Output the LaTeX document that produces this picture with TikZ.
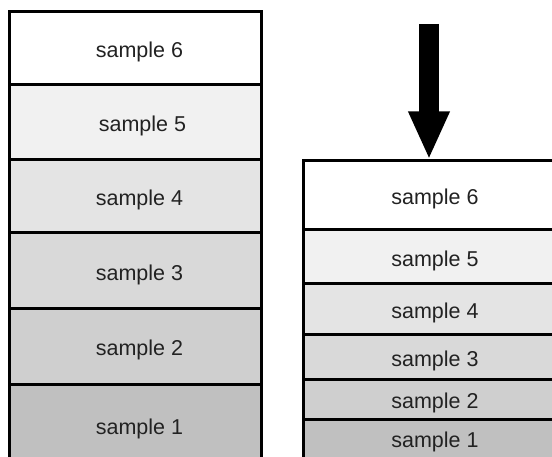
\documentclass[tikz,border=0pt]{standalone}
\usepackage{fontspec}
\setmainfont{Liberation Sans}
\usetikzlibrary{arrows.meta}
\definecolor{cs6}{HTML}{FFFFFF}
\definecolor{cs5}{HTML}{F1F1F1}
\definecolor{cs4}{HTML}{E4E4E4}
\definecolor{cs3}{HTML}{D9D9D9}
\definecolor{cs2}{HTML}{CFCFCF}
\definecolor{cs1}{HTML}{C0C0C0}
\definecolor{txt}{HTML}{222222}
\tikzset{
  layer/.style={draw=black, line width=3pt, rectangle, inner sep=0pt,
    text height=18.5pt, text depth=0pt,
    text=txt, font=\fontsize{21.5}{25}\selectfont},
  bigarrow/.style={line width=20pt, -{Triangle[width=38pt,length=48pt]}}
}
\begin{document}
\begin{tikzpicture}[x=1pt,y=-1pt]
\useasboundingbox (0,0) rectangle (552,457);
\clip (0,0) rectangle (552,457);
% left stack
\node[layer, fill=cs6, minimum width=252pt, minimum height=73pt] (l6) at (135,48.5) {\hspace{9pt}sample 6};
\node[layer, fill=cs5, minimum width=252pt, minimum height=75pt] (l5) at (135,122.5) {\hspace{15pt}sample 5};
\node[layer, fill=cs4, minimum width=252pt, minimum height=73pt] (l4) at (135,196.5) {\hspace{9pt}sample 4};
\node[layer, fill=cs3, minimum width=252pt, minimum height=76pt] (l3) at (135,271) {\hspace{9pt}sample 3};
\node[layer, fill=cs2, minimum width=252pt, minimum height=75pt] (l2) at (135,346.5) {\hspace{9pt}sample 2};
\node[layer, fill=cs1, minimum width=252pt, minimum height=82pt] (l1) at (135,425) {\hspace{9pt}sample 1};
% right stack
\node[layer, fill=cs6, minimum width=264pt, minimum height=69pt] (r6) at (435,195.5) {sample 6};
\node[layer, fill=cs5, minimum width=264pt, minimum height=54pt] (r5) at (435,257) {sample 5};
\node[layer, fill=cs4, minimum width=264pt, minimum height=51pt] (r4) at (435,309.5) {sample 4};
\node[layer, fill=cs3, minimum width=264pt, minimum height=44pt] (r3) at (435,357) {sample 3};
\node[layer, fill=cs2, minimum width=264pt, minimum height=40pt] (r2) at (435,399) {sample 2};
\node[layer, fill=cs1, minimum width=264pt, minimum height=39pt] (r1) at (435,438.5) {sample 1};
% arrow
\coordinate (atop) at (429,24);
\draw[bigarrow] (atop) -- (r6.north -| atop);
\end{tikzpicture}
\end{document}
